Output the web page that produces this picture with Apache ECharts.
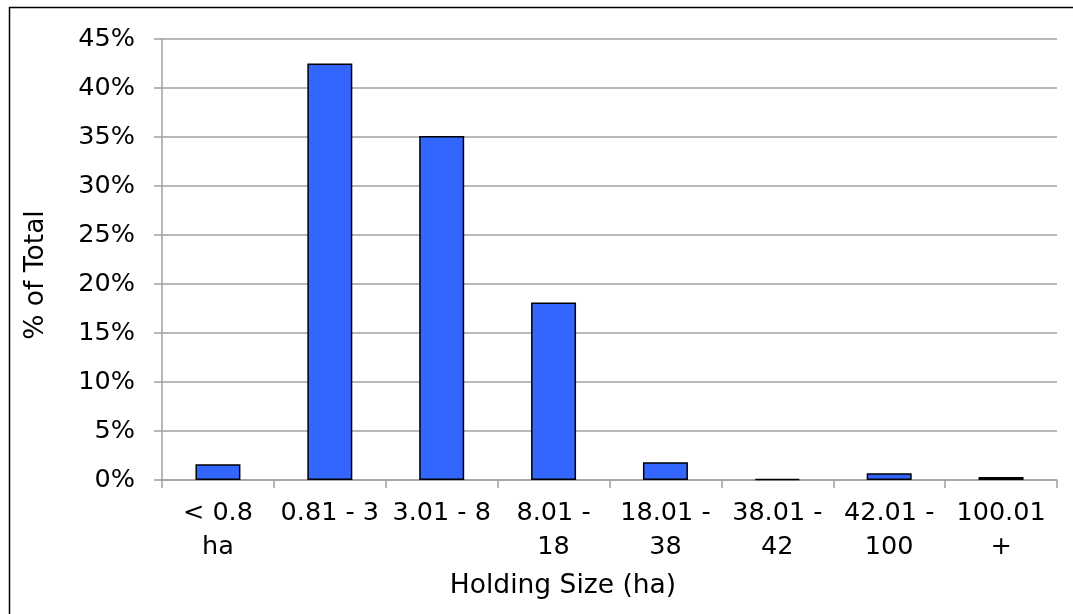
<!DOCTYPE html>
<html>
<head>
<meta charset="utf-8">
<script src="https://cdn.jsdelivr.net/npm/echarts@6/dist/echarts.min.js"></script>
<style>
html,body{margin:0;padding:0;background:#fff;}
#c{width:1073px;height:614px;}
</style>
</head>
<body>
<div id="c"></div>
<script>
const categories = ["< 0.8\nha", "0.81 - 3", "3.01 - 8", "8.01 -\n18", "18.01 -\n38", "38.01 -\n42", "42.01 -\n100", "100.01\n+"];
const shareOfTotal = [1.6, 42.5, 35.1, 18.1, 1.8, 0.1, 0.7, 0.3];
const yTicks = { min: 0, max: 45, interval: 5 };
const xTitle = "Holding Size (ha)";
const yTitle = "% of Total";

const FONT = "DejaVu Sans";
const chart = echarts.init(document.getElementById('c'), null, { renderer: 'canvas' });
chart.setOption({
  animation: false,
  backgroundColor: '#ffffff',
  grid: { left: 162, right: 16, top: 39, bottom: 134, containLabel: false },
  xAxis: {
    type: 'category',
    data: categories,
    axisLine: { show: true, lineStyle: { color: '#a0a0a0', width: 1.5 } },
    axisTick: { show: true, length: 8, alignWithLabel: false, lineStyle: { color: '#a0a0a0', width: 1.5 } },
    axisLabel: {
      interval: 0, color: '#000', fontFamily: FONT, fontSize: 25.5,
      lineHeight: 34, margin: 16, align: 'center'
    },
    splitLine: { show: false }
  },
  yAxis: {
    type: 'value',
    min: yTicks.min, max: yTicks.max, interval: yTicks.interval,
    axisLine: { show: true, lineStyle: { color: '#a0a0a0', width: 1.5 } },
    axisTick: { show: true, length: 8, inside: false, lineStyle: { color: '#a0a0a0', width: 1.5 } },
    axisLabel: { formatter: '{value}%', color: '#000', fontFamily: FONT, fontSize: 25.5, margin: 27 },
    splitLine: { show: true, lineStyle: { color: '#a0a0a0', width: 1.5 } }
  },
  series: [{
    type: 'bar',
    data: shareOfTotal,
    barWidth: 45,
    itemStyle: { color: '#3366ff', borderColor: '#000000', borderWidth: 1.5 }
  }],
  graphic: [
    { type: 'rect', left: 7, top: 5, z: -1, silent: true,
      shape: { x: 0, y: 0, width: 1080, height: 620 },
      style: { fill: 'none', stroke: '#000', lineWidth: 1.5 } },
    { type: 'text', x: 563, y: 586, silent: true,
      style: { text: xTitle, font: '26.5px "DejaVu Sans"', fill: '#000', align: 'center', verticalAlign: 'middle' } },
    { type: 'text', x: 36, y: 275, rotation: Math.PI / 2, silent: true,
      style: { text: yTitle, font: '26.5px "DejaVu Sans"', fill: '#000', align: 'center', verticalAlign: 'middle' } }
  ]
});
</script>
</body>
</html>
